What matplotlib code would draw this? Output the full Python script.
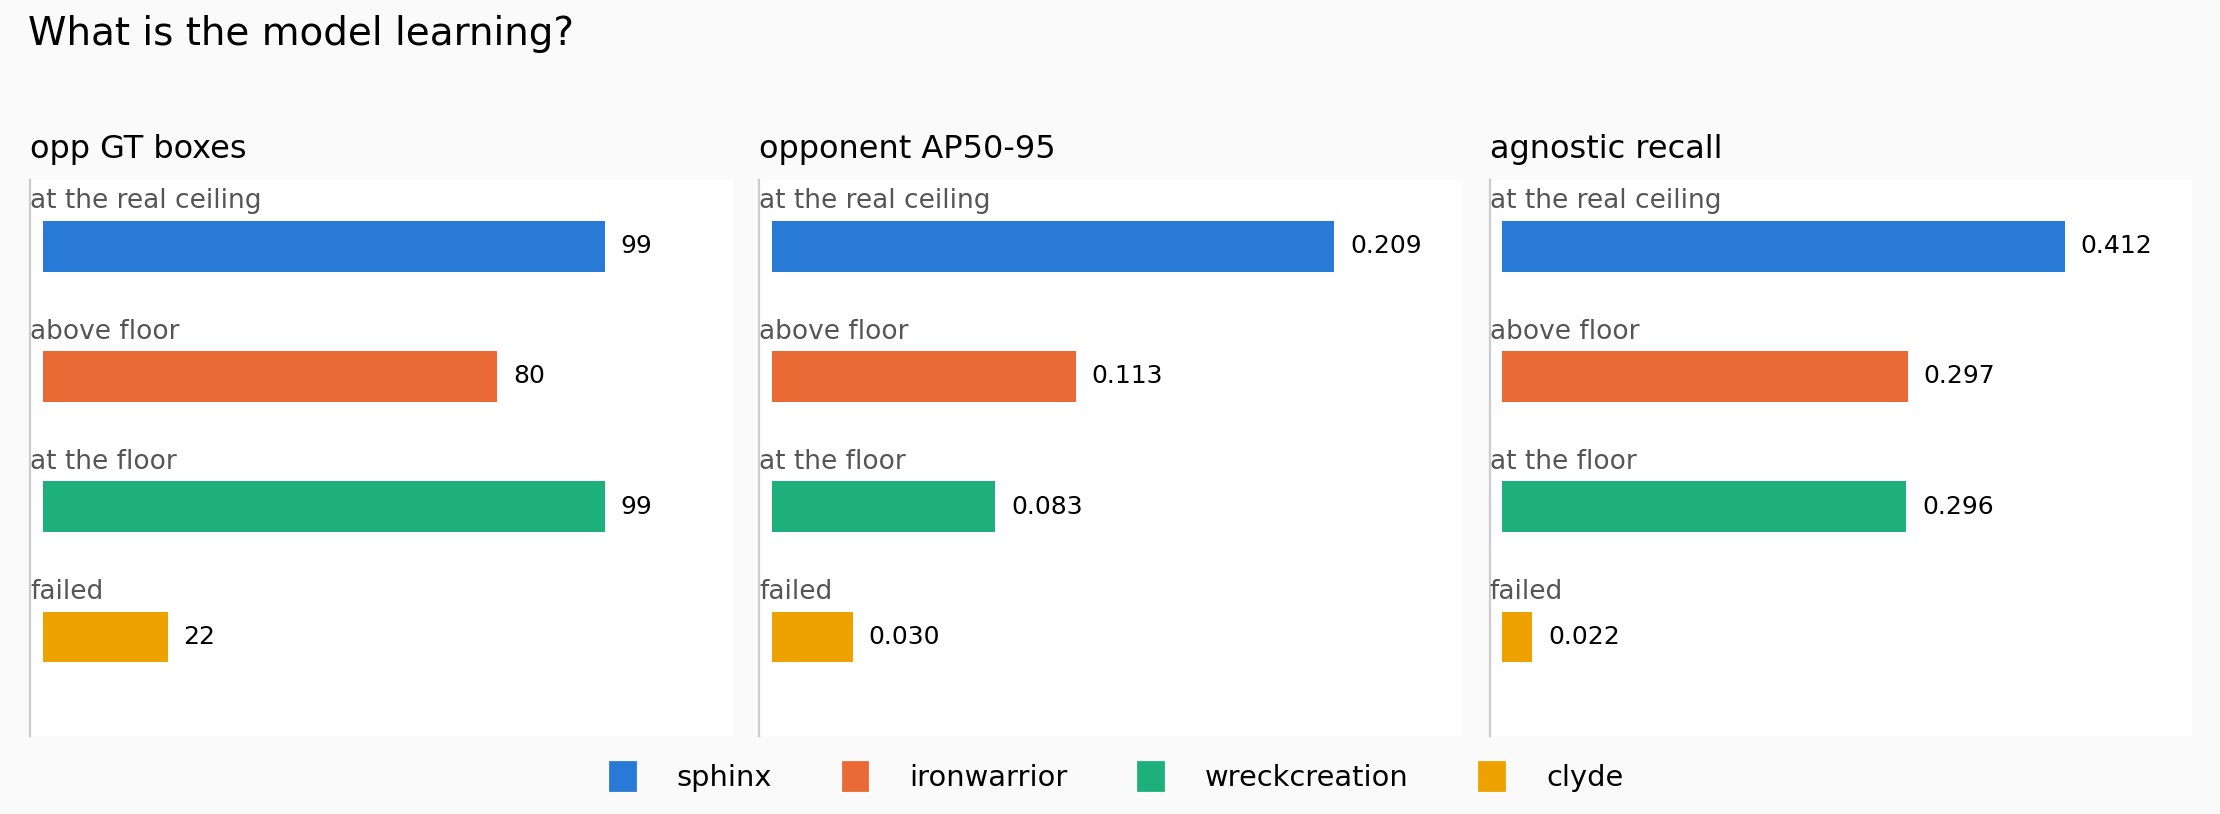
import numpy as np
import matplotlib.pyplot as plt
from matplotlib.patches import Patch

categories = ['at the real ceiling', 'above floor', 'at the floor', 'failed']
series = ['sphinx', 'ironwarrior', 'wreckcreation', 'clyde']
colors = ['#2979d6', '#ea6a35', '#1db07d', '#eda200']

panel_titles = ['opp GT boxes', 'opponent AP50-95', 'agnostic recall']
opp_gt_boxes = [99, 80, 99, 22]
opponent_ap = [0.209, 0.113, 0.083, 0.030]
agnostic_recall = [0.412, 0.297, 0.296, 0.022]
value_labels = [
    ['99', '80', '99', '22'],
    ['0.209', '0.113', '0.083', '0.030'],
    ['0.412', '0.297', '0.296', '0.022'],
]

fig = plt.figure(figsize=(11.1, 4.07), dpi=200, facecolor='#fafafa')
fig.text(0.0125, 0.9585, 'What is the model learning?', fontsize=14, ha='left', va='center')

lefts = [0.0135, 0.342, 0.671]
pos = np.arange(len(categories))

for i, vals in enumerate([opp_gt_boxes, opponent_ap, agnostic_recall]):
    ax = fig.add_axes([lefts[i], 0.096, 0.3165, 0.683])
    ax.set_facecolor('white')
    vmax = max(vals)
    ax.barh(pos, vals, height=0.39, color=colors)
    for j, v in enumerate(vals):
        ax.text(v + vmax * 0.028, pos[j], value_labels[i][j], va='center', ha='left', fontsize=9)
        ax.text(-vmax * 0.0227, pos[j] - 0.345, categories[j], va='center', ha='left',
                fontsize=9.5, color='#555555')
    ax.set_xlim(-vmax * 0.0227, vmax * 1.227)
    ax.set_ylim(3.76, -0.51)
    ax.set_xticks([])
    ax.set_yticks([])
    for s in ['top', 'right', 'bottom']:
        ax.spines[s].set_visible(False)
    ax.spines['left'].set_color('#cccccc')
    ax.spines['left'].set_linewidth(0.8)
    ax.set_title(panel_titles[i], loc='left', fontsize=11.5, pad=8)

handles = [Patch(color=c) for c in colors]
fig.legend(handles, series, loc='lower center', ncol=4, frameon=False, fontsize=10.4,
           handlelength=0.85, handleheight=1.1, handletextpad=1.45, columnspacing=2.45,
           bbox_to_anchor=(0.503, -0.005))

fig.savefig('out.png', dpi=200, facecolor=fig.get_facecolor())
